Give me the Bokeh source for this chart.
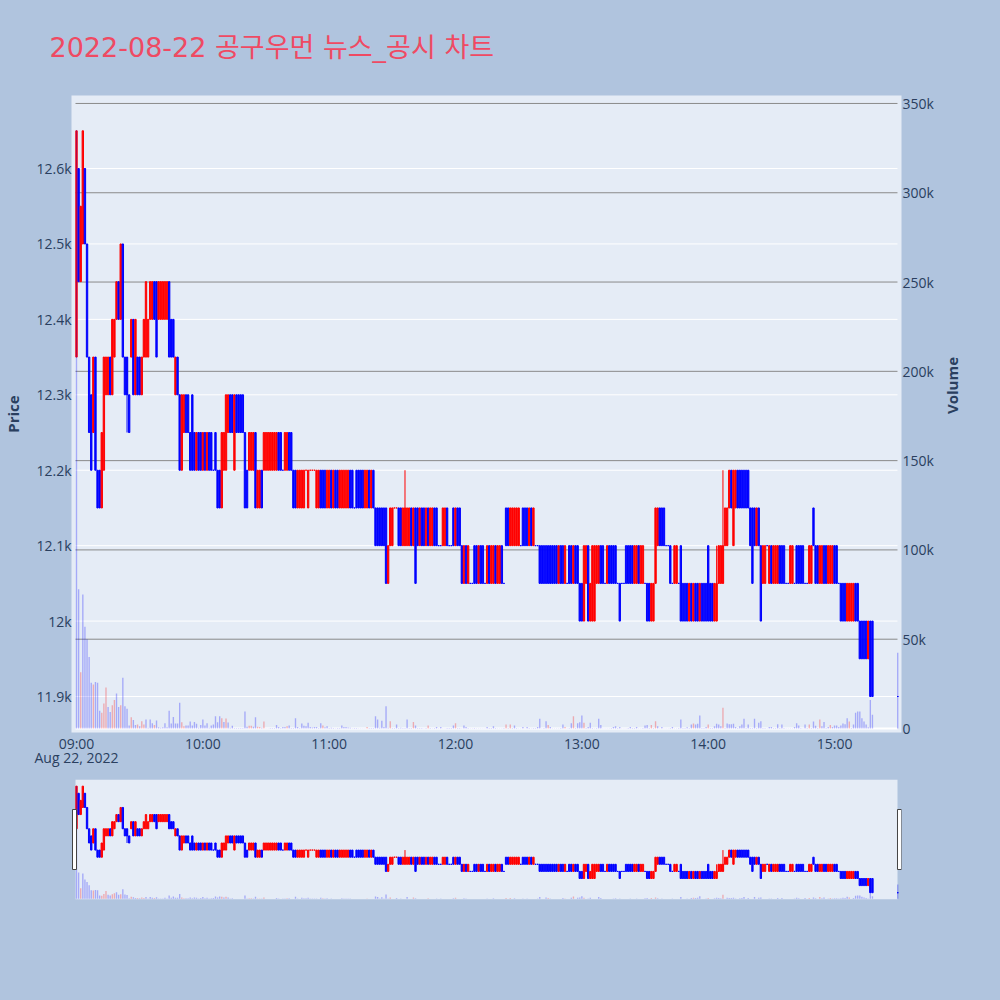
import numpy as np
from bokeh.embed import file_html
from bokeh.resources import INLINE
from bokeh.layouts import column
from bokeh.plotting import figure
from bokeh.models import (Range1d, LinearAxis, FixedTicker, NumeralTickFormatter, Title,
                          DatetimeTickFormatter, ColumnDataSource)
import math

TITLE = "2022-08-22 공구우먼 뉴스_공시 차트"
DATE_LABEL = "Aug 22, 2022"
START = np.datetime64("2022-08-22T09:00").astype("datetime64[ms]").astype(np.int64).item()
MIN_MS = 60000.0

opens = [
 12350,12600,12450,12500,12600,12500,12350,12300,12250,12350,
 12200,12200,12150,12200,12300,12300,12350,12300,12350,12400,
 12450,12400,12500,12350,12350,12300,12350,12400,12300,12350,
 12350,12300,12350,12350,12350,12400,12400,12450,12450,12400,
 12400,12400,12400,12400,12450,12400,12400,12300,12350,12300,
 12200,12250,12300,12300,12250,12300,12250,12200,12250,12250,
 12200,12250,12200,12250,12250,12200,12250,12200,12200,12150,
 12200,12200,12250,12300,12300,12200,12300,12300,12300,12300,
 12250,12200,12200,12200,12200,12250,12150,12150,12200,12200,
 12200,12200,12200,12200,12200,12200,12250,12250,12200,12200,
 12200,12250,12250,12200,12200,12150,12150,12150,12150,12200,
 12150,12200,12200,12200,12150,12150,12200,12200,12200,12150,
 12150,12200,12150,12200,12200,12150,12150,12150,12150,12150,
 12200,12200,12150,12200,12200,12200,12200,12150,12150,12200,
 12150,12200,12150,12150,12150,12150,12150,12150,12050,12100,
 12100,12150,12150,12150,12150,12100,12100,12100,12100,12150,
 12100,12150,12150,12100,12150,12150,12100,12150,12100,12100,
 12150,12150,12100,12100,12100,12100,12150,12100,12100,12150,
 12100,12150,12150,12100,12050,12100,12050,12050,12050,12100,
 12100,12050,12100,12100,12050,12050,12100,12050,12050,12100,
 12050,12050,12100,12050,12150,12150,12100,12100,12100,12100,
 12100,12100,12150,12150,12150,12100,12150,12100,12100,12100,
 12100,12100,12100,12100,12100,12100,12100,12100,12100,12050,
 12100,12100,12050,12050,12100,12100,12050,12100,12100,12050,
 12050,12000,12050,12100,12000,12000,12000,12050,12050,12100,
 12100,12050,12050,12100,12100,12100,12100,12050,12050,12050,
 12050,12100,12100,12100,12100,12050,12050,12100,12050,12050,
 12050,12050,12050,12000,12000,12050,12100,12150,12150,12150,
 12100,12100,12100,12050,12050,12050,12050,12100,12050,12050,
 12050,12000,12050,12000,12050,12050,12000,12050,12050,12050,
 12100,12050,12050,12000,12000,12050,12050,12050,12100,12100,
 12150,12200,12100,12150,12200,12200,12200,12200,12200,12200,
 12150,12150,12150,12100,12150,12100,12050,12050,12100,12050,
 12100,12050,12050,12050,12100,12100,12100,12050,12050,12050,
 12050,12050,12100,12100,12100,12100,12050,12050,12050,12050,
 12150,12100,12100,12050,12050,12100,12100,12050,12050,12050,
 12100,12100,12050,12050,12050,12050,12000,12000,12000,12000,
 12050,12050,12000,12000,12000,12000,11950,12000,12000,
 None,None,None,None,None,None,None,None,None,None,None,11900]
closes = [
 12650,12450,12550,12650,12500,12350,12250,12200,12350,12200,
 12150,12150,12250,12350,12350,12350,12300,12400,12400,12450,
 12400,12500,12350,12300,12300,12250,12400,12300,12400,12300,
 12300,12350,12400,12450,12400,12450,12450,12400,12350,12450,
 12450,12450,12450,12450,12350,12350,12350,12350,12300,12200,
 12300,12300,12250,12250,12200,12200,12200,12250,12200,12200,
 12250,12200,12250,12200,12200,12200,12200,12150,12150,12250,
 12250,12300,12300,12250,12250,12300,12250,12250,12250,12250,
 12150,12150,12250,12250,12250,12150,12200,12200,12150,12250,
 12250,12250,12250,12250,12250,12250,12200,12200,12200,12250,
 12250,12200,12200,12150,12150,12200,12200,12200,12200,12200,
 12200,12200,12200,12200,12200,12200,12150,12150,12150,12200,
 12200,12150,12200,12150,12150,12200,12200,12200,12200,12200,
 12150,12150,12150,12150,12150,12150,12150,12200,12200,12150,
 12200,12150,12100,12100,12100,12100,12100,12050,12100,12150,
 12150,12150,12150,12100,12100,12150,12150,12150,12150,12100,
 12150,12050,12100,12150,12100,12100,12150,12100,12150,12150,
 12100,12100,12100,12100,12150,12150,12100,12100,12100,12100,
 12150,12100,12100,12050,12100,12050,12100,12050,12050,12050,
 12050,12100,12050,12050,12050,12100,12050,12100,12100,12050,
 12100,12100,12050,12050,12100,12100,12150,12150,12150,12150,
 12150,12100,12100,12100,12100,12150,12100,12150,12100,12100,
 12050,12050,12050,12050,12050,12050,12050,12050,12050,12100,
 12050,12050,12100,12050,12050,12050,12100,12050,12050,12000,
 12000,12100,12100,12000,12050,12100,12100,12100,12100,12050,
 12050,12050,12100,12050,12050,12050,12050,12050,12000,12050,
 12050,12050,12050,12050,12050,12100,12100,12050,12100,12100,
 12050,12000,12000,12050,12050,12150,12150,12100,12100,12100,
 12100,12100,12050,12050,12100,12100,12050,12000,12000,12000,
 12000,12050,12000,12050,12000,12000,12050,12000,12000,12000,
 12000,12000,12000,12050,12050,12100,12100,12100,12150,12150,
 12200,12150,12200,12200,12150,12150,12150,12150,12150,12150,
 12100,12050,12100,12150,12100,12000,12100,12100,12100,12100,
 12050,12100,12100,12100,12050,12050,12050,12050,12050,12100,
 12100,12050,12050,12050,12050,12050,12050,12050,12100,12100,
 12100,12050,12050,12100,12100,12050,12050,12100,12100,12100,
 12050,12050,12050,12000,12000,12000,12050,12050,12050,12050,
 12000,12000,11950,11950,11950,11950,12000,11900,11900,
 None,None,None,None,None,None,None,None,None,None,None,11900]
volumes = [
 335000,78000,31500,75000,57000,50000,40000,25600,24600,26000,
 25600,10000,8800,14000,23000,12000,9300,13000,16000,19600,
 12000,13000,28400,12500,11000,1700,6300,4700,2000,2200,
 1300,4000,2200,5000,400,5000,3000,1900,4500,700,
 400,700,3000,700,10000,2800,6500,2800,2800,14400,
 3500,1300,1700,1700,3900,1700,3700,2600,400,1900,
 5000,1700,3000,400,1700,2200,6900,3500,6900,5800,
 3700,5600,3400,400,1500,300,300,300,300,300,
 9500,1000,1500,1500,1000,6300,1000,800,400,3900,
 200,200,300,300,300,2000,800,300,800,800,
 1200,1700,300,300,5800,800,300,2800,1500,1200,
 3200,800,500,800,800,300,3000,1700,700,1200,
 300,400,300,200,300,300,1700,800,800,500,
 400,200,300,300,200,200,200,200,800,300,
 300,300,6900,5000,400,4300,800,12500,400,4000,
 300,300,2200,300,400,300,300,5000,300,300,
 3700,1700,300,300,300,200,300,1700,300,200,
 300,800,200,800,200,200,300,300,300,1700,
 3000,300,300,200,1700,800,300,200,200,300,
 200,200,200,200,200,800,300,300,1200,300,
 200,200,200,300,2200,300,2200,300,1700,300,
 200,200,800,200,800,300,200,300,300,800,
 5400,200,300,4000,2000,800,200,200,200,200,
 300,2200,800,200,300,3000,6900,300,3000,3500,
 7300,3200,300,800,3200,300,200,300,5400,2000,
 200,200,200,200,300,800,1200,300,800,200,
 200,200,300,800,300,300,800,200,200,300,
 1700,2000,300,2000,300,4000,1200,200,800,200,
 200,200,300,800,200,200,300,5000,300,300,
 700,300,2200,2800,2200,2600,7300,300,300,800,
 2200,300,300,1200,2600,2200,1200,11600,300,2800,
 2400,2400,2600,800,300,1200,2200,5400,300,2200,
 300,300,5400,300,3200,4000,300,300,200,800,
 800,300,300,2400,300,2200,300,200,200,200,
 200,800,3000,1700,300,200,2200,300,2200,300,
 3900,1500,300,5000,1200,3700,300,800,2000,800,
 1700,1700,800,1700,2800,2400,5800,3900,300,2200,
 8800,9500,9500,5800,3900,2200,700,16000,7700,
 None,None,None,None,None,None,None,None,None,None,None,42400]
red_volume_minutes = [2,8,12,13,14,17,18,21,26,29,31,32,37,50,51,69,71,82,83,86,87,89,100,117,138,
                      149,160,167,180,204,206,224,232,236,241,273,275,293,300,307,348,353,358,367]
red_doji_minutes = [109,111,112,113,151,152]
wick_minutes = [24,156,304,307]
wick_highs = [12350,12200,12100,12200]
wick_lows = [12250,12100,12000,12050]
price_ticks = [11900,12000,12100,12200,12300,12400,12500,12600]
volume_ticks = [0,50000,100000,150000,200000,250000,300000,350000]
hour_ticks = [0,60,120,180,240,300,360]
hour_labels = ["09:00\n" + DATE_LABEL,"10:00","11:00","12:00","13:00","14:00","15:00"]

PAGE = "#b0c4de"; PANEL = "#e5ecf6"; INK = "#2a3f5f"; FONT = "Open Sans"
FONT_T = "DejaVu Sans, Noto Sans CJK KR"

minutes = np.arange(len(opens))
times = START + minutes * MIN_MS
o = np.array(opens, dtype=float); c = np.array(closes, dtype=float)
colors = ["#ff0000" if (cc > oo or m in red_doji_minutes) else "#0000ff"
          for m, oo, cc in zip(minutes, o, c)]
vcolors = ["#ff0000" if m in red_volume_minutes else "#0000ff" for m in minutes]
src = ColumnDataSource(dict(t=times, o=o, c=c, col=colors, v=np.array(volumes, dtype=float), vcol=vcolors))
wick_src = ColumnDataSource(dict(t=START + np.array(wick_minutes) * MIN_MS, h=wick_highs, l=wick_lows,
                                 col=["#0000ff", "#ff0000", "#ff0000", "#ff0000"]))

X_LO, X_HI = START - 2.378 * MIN_MS, START + 391.8 * MIN_MS
GRID_LO, GRID_HI = START - 0.476 * MIN_MS, START + 389.9 * MIN_MS
P_LO, P_HI = 11852.3, 12696.8
V_LO, V_HI = -2240, 354460

def draw_marks(p):
    p.vbar(x="t", bottom="o", top="c", width=0.65 * MIN_MS, fill_color="col", line_color="col",
           line_width=1, source=src)
    p.segment(x0="t", x1="t", y0="l", y1="h", line_color="col", line_width=1, source=wick_src)
    p.vbar(x="t", bottom=0, top="v", width=0.65 * MIN_MS, fill_color="vcol", fill_alpha=0.28,
           line_color=None, source=src, y_range_name="vol")

p = figure(width=984, height=778, x_axis_type="datetime", x_range=Range1d(X_LO, X_HI),
           y_range=Range1d(P_LO, P_HI), output_backend="svg", toolbar_location=None,
           background_fill_color=PANEL, border_fill_color=PAGE, outline_line_color=None,
           min_border_left=71, min_border_right=83, min_border_top=95, min_border_bottom=46)
p.extra_y_ranges["vol"] = Range1d(V_LO, V_HI)
p.grid.visible = False

p.segment(x0=GRID_LO, x1=GRID_HI, y0=price_ticks, y1=price_ticks, line_color="#ffffff", line_width=1)
p.segment(x0=GRID_LO, x1=GRID_HI, y0=volume_ticks[1:], y1=volume_ticks[1:], line_color="#8a8a8a",
          line_width=1, y_range_name="vol")
p.segment(x0=GRID_LO, x1=GRID_HI, y0=volume_ticks[:1], y1=volume_ticks[:1], line_color="#ffffff",
          line_width=2, y_range_name="vol")
draw_marks(p)

ax = p.xaxis[0]
ticks = [START + h * MIN_MS for h in hour_ticks]
ax.ticker = FixedTicker(ticks=ticks)
ax.formatter = DatetimeTickFormatter(hours="%H:%M", hourmin="%H:%M", minutes="%H:%M", minsec="%H:%M",
                                     seconds="%H:%M", days="%H:%M", context=None)
ax.major_label_overrides = dict(zip(ticks, hour_labels))
ax.major_label_text_line_height = 0.75
ay = p.yaxis[0]
ay.ticker = FixedTicker(ticks=price_ticks)
ay.formatter = NumeralTickFormatter(format="0.[0]a")
ry = LinearAxis(y_range_name="vol", ticker=FixedTicker(ticks=volume_ticks),
                formatter=NumeralTickFormatter(format="0a"))
p.add_layout(ry, "right")
for a, st in ((ax, 1), (ay, 0), (ry, 1)):
    a.axis_line_color = None
    a.major_tick_line_color = None
    a.minor_tick_line_color = None
    a.major_tick_out = 0
    a.major_tick_in = 0
    a.major_label_standoff = st
    a.major_label_text_font = FONT
    a.major_label_text_font_size = "14px"
    a.major_label_text_color = INK
for a, label, st, lh in ((ay, "Price", 10, 0.8), (ry, "Volume", 15, 0.8)):
    a.axis_label = label
    a.axis_label_text_font = FONT
    a.axis_label_text_font_size = "15px"
    a.axis_label_text_font_style = "bold"
    a.axis_label_text_color = INK
    a.axis_label_text_line_height = lh
    a.axis_label_standoff = st
ry.axis_label_orientation = math.pi / 2

t = Title(text=TITLE, text_font=FONT_T, text_font_size="27px", text_font_style="normal",
          text_color="#ef4a63", align="left", offset=-22, standoff=61, vertical_align="top")
p.add_layout(t, "above")
p.title = None

m = figure(width=984, height=214, x_axis_type="datetime", x_range=Range1d(X_LO, X_HI),
           y_range=Range1d(P_LO, P_HI), output_backend="svg", toolbar_location=None,
           background_fill_color=PAGE, border_fill_color=PAGE, outline_line_color=None,
           min_border_left=71, min_border_right=83, min_border_top=1, min_border_bottom=93)
m.extra_y_ranges["vol"] = Range1d(V_LO, V_HI)
m.extra_y_ranges["frac"] = Range1d(0, 1)
m.grid.visible = False
m.xaxis.visible = False
m.yaxis.visible = False
m.quad(left=GRID_LO, right=GRID_HI, bottom=0, top=1, fill_color=PANEL, line_color=None, y_range_name="frac")
draw_marks(m)
px = MIN_MS / 2.103
m.quad(left=[GRID_LO - 3 * px, GRID_HI], right=[GRID_LO + 1 * px, GRID_HI + 4 * px],
       bottom=[0.25, 0.25], top=[0.75, 0.75], fill_color="#ffffff", line_color="#444444",
       line_width=1, y_range_name="frac")

html = file_html(column(p, m, spacing=0), INLINE)
html = html.replace("<head>", "<head><style>html,body{background:#b0c4de}</style>", 1)
open("out.html", "w").write(html)
